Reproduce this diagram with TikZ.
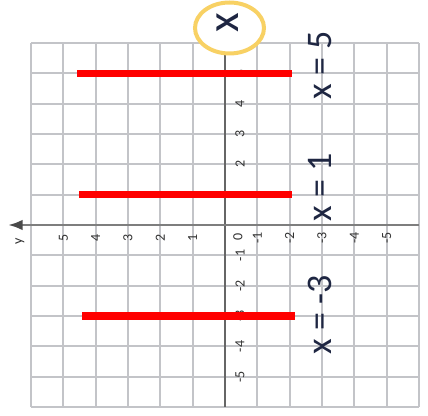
\documentclass[tikz,border=0pt]{standalone}
\usepackage{fontspec}
\setmainfont{Carlito}
\usetikzlibrary{arrows.meta}
\definecolor{gridgray}{HTML}{C3C4C8}
\definecolor{haxisgray}{HTML}{7E7E7E}
\definecolor{arrowgray}{HTML}{4A4A4A}
\definecolor{vaxisgray}{HTML}{666666}
\definecolor{annred}{HTML}{FF0000}
\definecolor{circgold}{HTML}{F8D164}
\definecolor{txtnavy}{HTML}{1E2642}
\definecolor{tickgray}{HTML}{333333}
\begin{document}
\begin{tikzpicture}[x=0.75pt,y=-0.75pt,
  gridline/.style={draw=gridgray,line width=1.3pt},
  haxis/.style={draw=haxisgray,line width=2pt,-{Latex[length=11pt,width=8pt,color=arrowgray]}},
  vaxis/.style={draw=vaxisgray,line width=1.3pt},
  ticklbl/.style={rotate=90,font=\fontsize{10.5}{10.5}\selectfont,text=tickgray,inner sep=0pt},
  eqlbl/.style={rotate=90,font=\fontsize{27}{27}\selectfont,text=txtnavy,inner sep=0pt},
  redline/.style={draw=annred,line width=5.6pt},
]
\useasboundingbox (0,0) rectangle (428,416);
\fill[white] (0,0) rectangle (428,416);
% grid
\foreach \k in {0,...,12} {
  \draw[gridline] ({31+\k*32.333},43) -- ({31+\k*32.333},407);
  \draw[gridline] (31,{43+\k*30.333}) -- (419,{43+\k*30.333});
}
% axes
\coordinate (hstart) at (419,225);
\coordinate (hend) at (8,225);
\coordinate (vtop) at (225,43);
\coordinate (vbot) at (225,407);
\draw[vaxis] (vtop) -- (vbot);
\draw[haxis] (hstart) -- (hend);
% tick labels
\foreach \k/\t in {1/5,2/4,3/3,4/2,5/1,7/-1,8/-2,9/-3,10/-4,11/-5} {
  \node[ticklbl] (hx\k) at ({31+\k*32.333},238) {\t};
  \node[ticklbl] (vy\k) at (240,{43+\k*30.333}) {\t};
}
\node[ticklbl] (orig) at (238,237) {0};
\node[ticklbl] (ylbl) at (20,241) {y};
% red lines
\draw[redline] (77,73.3) -- (292,73.3);
\draw[redline] (79,194.7) -- (292,194.7);
\draw[redline] (82,316) -- (295,316);
% circled axis label
\filldraw[fill=white,draw=circgold,line width=3pt] (229.5,28) ellipse [x radius=34.5, y radius=25.5];
\node[rotate=90,font=\fontsize{34}{34}\selectfont,text=txtnavy,inner sep=0pt] (xlbl) at (228,23) {x};
% equation labels
\node[eqlbl] (eq5) at (320,65) {x = 5};
\node[eqlbl] (eq1) at (320,187) {x = 1};
\node[eqlbl] (eqm3) at (320,315) {x = -3};
\end{tikzpicture}
\end{document}
